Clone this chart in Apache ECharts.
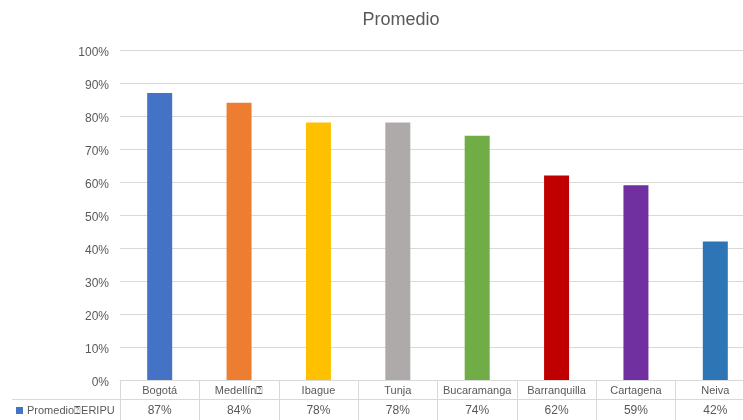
<!DOCTYPE html>
<html>
<head>
<meta charset="utf-8">
<script src="https://cdn.jsdelivr.net/npm/echarts@6/dist/echarts.min.js"></script>
<style>
  html, body { margin: 0; padding: 0; background: #fff; }
  #chart { width: 743px; height: 420px; }
</style>
</head>
<body>
<div id="chart"></div>
<script>
// Promedio por ciudad, con tabla de datos bajo el eje
const seriesName = 'Promedio\u2370ERIPU';
const categories = ['Bogotá', 'Medellín\u2370', 'Ibague', 'Tunja', 'Bucaramanga', 'Barranquilla', 'Cartagena', 'Neiva'];
const values = [87, 84, 78, 78, 74, 62, 59, 42];
const barColors = ['#4472C4', '#ED7D31', '#FFC000', '#AEAAAA', '#70AD47', '#C00000', '#7030A0', '#2E75B6'];
const yTicks = [0, 10, 20, 30, 40, 50, 60, 70, 80, 90, 100];

const valueLabels = values.map(v => v + '%');
const textColor = '#595959';
const lineColor = '#D9D9D9';
const font = 'Liberation Sans, Arial, sans-serif';

const chart = echarts.init(document.getElementById('chart'), null, { renderer: 'canvas' });

chart.setOption({
  animation: false,
  backgroundColor: '#fff',
  textStyle: { fontFamily: font },
  title: {
    text: 'Promedio',
    left: 396,
    top: 6,
    textAlign: 'center',
    textStyle: { fontFamily: font, fontSize: 18, fontWeight: 'normal', color: textColor }
  },
  legend: {
    data: [seriesName],
    left: 16,
    top: 405,
    itemWidth: 7,
    itemHeight: 7,
    itemGap: 0,
    icon: 'rect',
    padding: 0,
    textStyle: { fontFamily: font, fontSize: 11, color: textColor, padding: [0, 0, 0, -1] }
  },
  // the plot runs a little past the right edge of the page
  grid: { left: 120, top: 50, width: 635, height: 330, containLabel: false, outerBoundsMode: 'none' },
  xAxis: [
    {
      type: 'category',
      data: categories,
      position: 'bottom',
      axisLine: { show: true, lineStyle: { color: lineColor, width: 1 } },
      axisTick: { show: true, interval: 0, length: 42, lineStyle: { color: lineColor } },
      axisLabel: { interval: 0, margin: 5, fontSize: 11, color: textColor, fontFamily: font }
    },
    {
      type: 'category',
      data: valueLabels,
      position: 'bottom',
      offset: 19,
      axisLine: { show: true, lineStyle: { color: lineColor, width: 1 } },
      axisTick: { show: false },
      axisLabel: { interval: 0, margin: 6, fontSize: 12, color: textColor, fontFamily: font }
    }
  ],
  yAxis: {
    type: 'value',
    min: yTicks[0],
    max: yTicks[yTicks.length - 1],
    interval: 10,
    axisLine: { show: false },
    axisTick: { show: false },
    axisLabel: {
      formatter: '{a|{value}%}',
      margin: 11,
      color: textColor,
      rich: { a: { fontSize: 12, color: textColor, fontFamily: font, padding: [6, 0, 0, 0] } }
    },
    splitLine: { show: true, lineStyle: { color: lineColor, width: 1 } }
  },
  graphic: [
    {
      type: 'line',
      shape: { x1: 12, y1: 399.5, x2: 120, y2: 399.5 },
      style: { stroke: lineColor, lineWidth: 1 },
      silent: true
    }
  ],
  series: [
    {
      name: seriesName,
      type: 'bar',
      xAxisIndex: 0,
      barWidth: 25,
      itemStyle: { color: barColors[0] },
      data: values.map((v, i) => ({ value: v, itemStyle: { color: barColors[i] } }))
    }
  ]
});
</script>
</body>
</html>
